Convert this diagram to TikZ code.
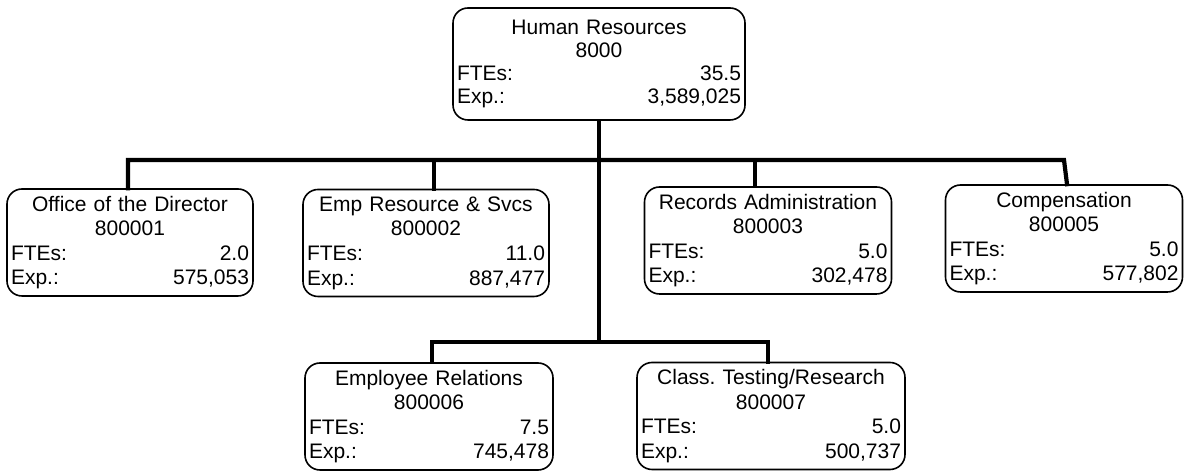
\documentclass[tikz,border=0pt]{standalone}
\usepackage{fontspec}
\setmainfont{Liberation Sans}
\usepackage{tikz}
\usetikzlibrary{positioning,calc}
\frenchspacing
\tikzset{
    orgbox/.style={
        draw, rounded corners=15pt, line width=1.6pt,
        inner xsep=4pt, inner ysep=0pt,
        minimum height=107pt, text width=#1, align=center,
        font=\fontsize{21}{24.6}\selectfont
    },
    conn/.style={line width=4.2pt, line cap=rect}
}
\newcommand{\unitinfo}[4]{#1\\#2\\\makebox[\linewidth]{FTEs:\hfill #3}\\\makebox[\linewidth]{Exp.:\hfill #4}}

\begin{document}
\begin{tikzpicture}[x=1pt,y=1pt]
    \useasboundingbox (0,0) rectangle (1186,473);
    \node[orgbox=284pt, minimum height=112pt, font=\fontsize{21}{23.2}\selectfont] (hr) at (599,409)
        {\unitinfo{Human Resources}{8000}{35.5}{3,589,025}};
    \node[orgbox=238pt] (dir) at (130,230.5) {\unitinfo{Office of the Director}{800001}{2.0}{575,053}};
    \node[orgbox=238pt] (emp) at (426,230) {\unitinfo{Emp Resource \& Svcs}{800002}{11.0}{887,477}};
    \node[orgbox=239pt] (rec) at (768,232.5) {\unitinfo{Records Administration}{800003}{5.0}{302,478}};
    \node[orgbox=229pt] (comp) at (1064,234.5) {\unitinfo{Compensation}{800005}{5.0}{577,802}};
    \node[orgbox=240pt] (rel) at (429,56.5) {\unitinfo{Employee Relations}{800006}{7.5}{745,478}};
    \node[orgbox=260pt] (cls) at (771,57) {\unitinfo{Class. Testing/Research}{800007}{5.0}{500,737}};

    \coordinate (bus) at (0,313);
    \coordinate (subbus) at (0,131);
    \draw[conn] (hr.south) -- (hr.south |- subbus);
    \draw[conn] ([xshift=-2pt]dir.north) |- (comp.north |- bus) -- ([xshift=3pt]comp.north);
    \draw[conn] ([xshift=8pt]emp.north) -- ([xshift=8pt]emp.north |- bus);
    \draw[conn] ([xshift=-13pt]rec.north) -- ([xshift=-13pt]rec.north |- bus);
    \draw[conn] ([xshift=3pt]rel.north) |- ([xshift=-3pt]cls.north |- subbus) -- ([xshift=-3pt]cls.north);
\end{tikzpicture}
\end{document}
